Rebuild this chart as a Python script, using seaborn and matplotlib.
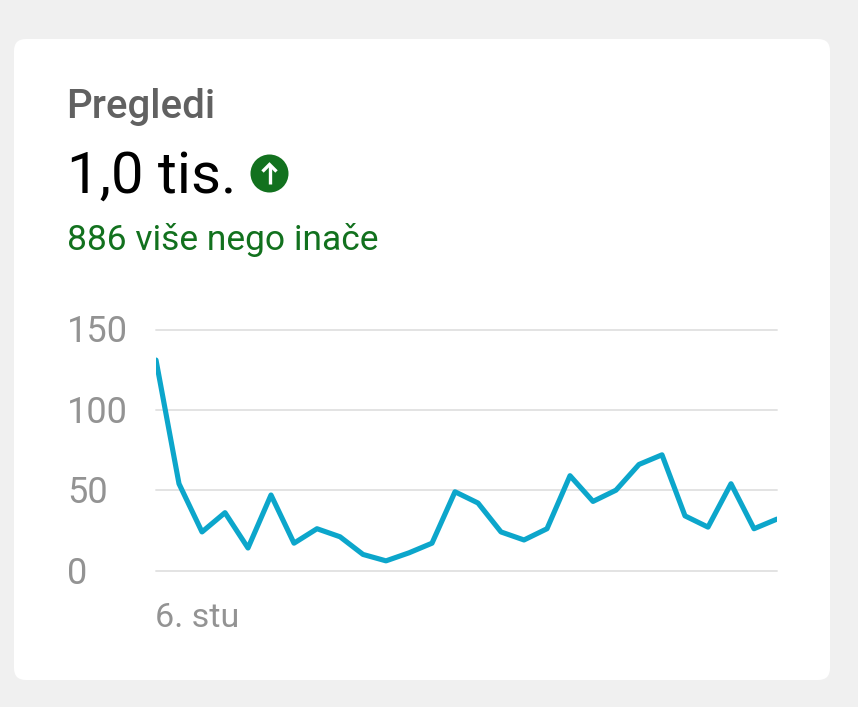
import matplotlib
matplotlib.use("Agg")
import matplotlib.pyplot as plt
import seaborn as sns
from matplotlib.patches import Circle, FancyBboxPatch
from matplotlib.transforms import ScaledTranslation

# vrijednosti ocitane sa slike
dani = list(range(28))
pregledi = [131, 54, 24, 36, 14, 47, 17, 26, 21, 10, 6, 11, 17, 49,
            42, 24, 19, 26, 59, 43, 50, 66, 72, 34, 27, 54, 26, 32]
y_oznake = [0, 50, 100, 150]
x_oznake = ["6. stu"]

naslov = "Pregledi"
ukupno = "1,0 tis."
opis = "886 više nego inače"

W, H = 858, 707
SIVA = "#939393"
ZELENA = "#12711e"

sns.set_theme(style="white")
plt.rcParams["font.family"] = ["Roboto", "DejaVu Sans"]

fig = plt.figure(figsize=(W / 100, H / 100), dpi=100, facecolor="#f0f0f0")

# pozadina kartice i naslovi, koordinate su pikseli
bg = fig.add_axes([0, 0, 1, 1])
bg.set_xlim(0, W)
bg.set_ylim(H, 0)
bg.axis("off")
bg.add_patch(FancyBboxPatch((24, 49), 796, 621, boxstyle="round,pad=10,rounding_size=12",
                            fc="white", ec="none"))
bg.text(66.5, 118, naslov, fontsize=29, fontweight="medium", color="#616161", va="baseline")
bg.text(67, 193, ukupno, fontsize=41.8, color="black", va="baseline")
bg.text(67, 250, opis, fontsize=25.5, color=ZELENA, va="baseline")

bg.add_patch(Circle((269.5, 173.5), 19, fc=ZELENA, ec="none"))
bg.plot([269.5, 269.5], [184, 166], color="white", lw=2.4, solid_capstyle="butt")
bg.plot([262.5, 269.5, 276.5], [171.5, 164.5, 171.5], color="white", lw=2.4,
        solid_joinstyle="miter", solid_capstyle="butt")

# graf
ax = fig.add_axes([156 / W, 1 - 570.5 / H, 621 / W, 241 / H])
ax.patch.set_alpha(0)
sns.lineplot(x=dani, y=pregledi, ax=ax, color="#0ca6cb", lw=3.7, zorder=3)
ax.set_xlim(0, 27)
ax.set_ylim(0, 150)
sns.despine(ax=ax, left=True, bottom=True)

ax.set_yticks(y_oznake)
ax.set_xticks([0])
ax.set_xticklabels(x_oznake)
ax.grid(axis="y", color="#e3e3e3", lw=1.4)
for g in ax.get_ygridlines():
    g.set_clip_on(False)

ax.tick_params(axis="y", length=0, pad=63.8, labelsize=26, labelcolor=SIVA)
ax.tick_params(axis="x", length=0, pad=23, labelsize=24.5, labelcolor=SIVA)
for t in ax.get_yticklabels():
    t.set_ha("left")
    t.set_transform(t.get_transform() + ScaledTranslation(0, 1 / 100, fig.dpi_scale_trans))
for t in ax.get_xticklabels():
    t.set_ha("left")
    t.set_transform(t.get_transform() + ScaledTranslation(-1 / 100, 0, fig.dpi_scale_trans))

ax.set_xlabel("")
ax.set_ylabel("")

fig.savefig("out.png", dpi=100, facecolor=fig.get_facecolor())
